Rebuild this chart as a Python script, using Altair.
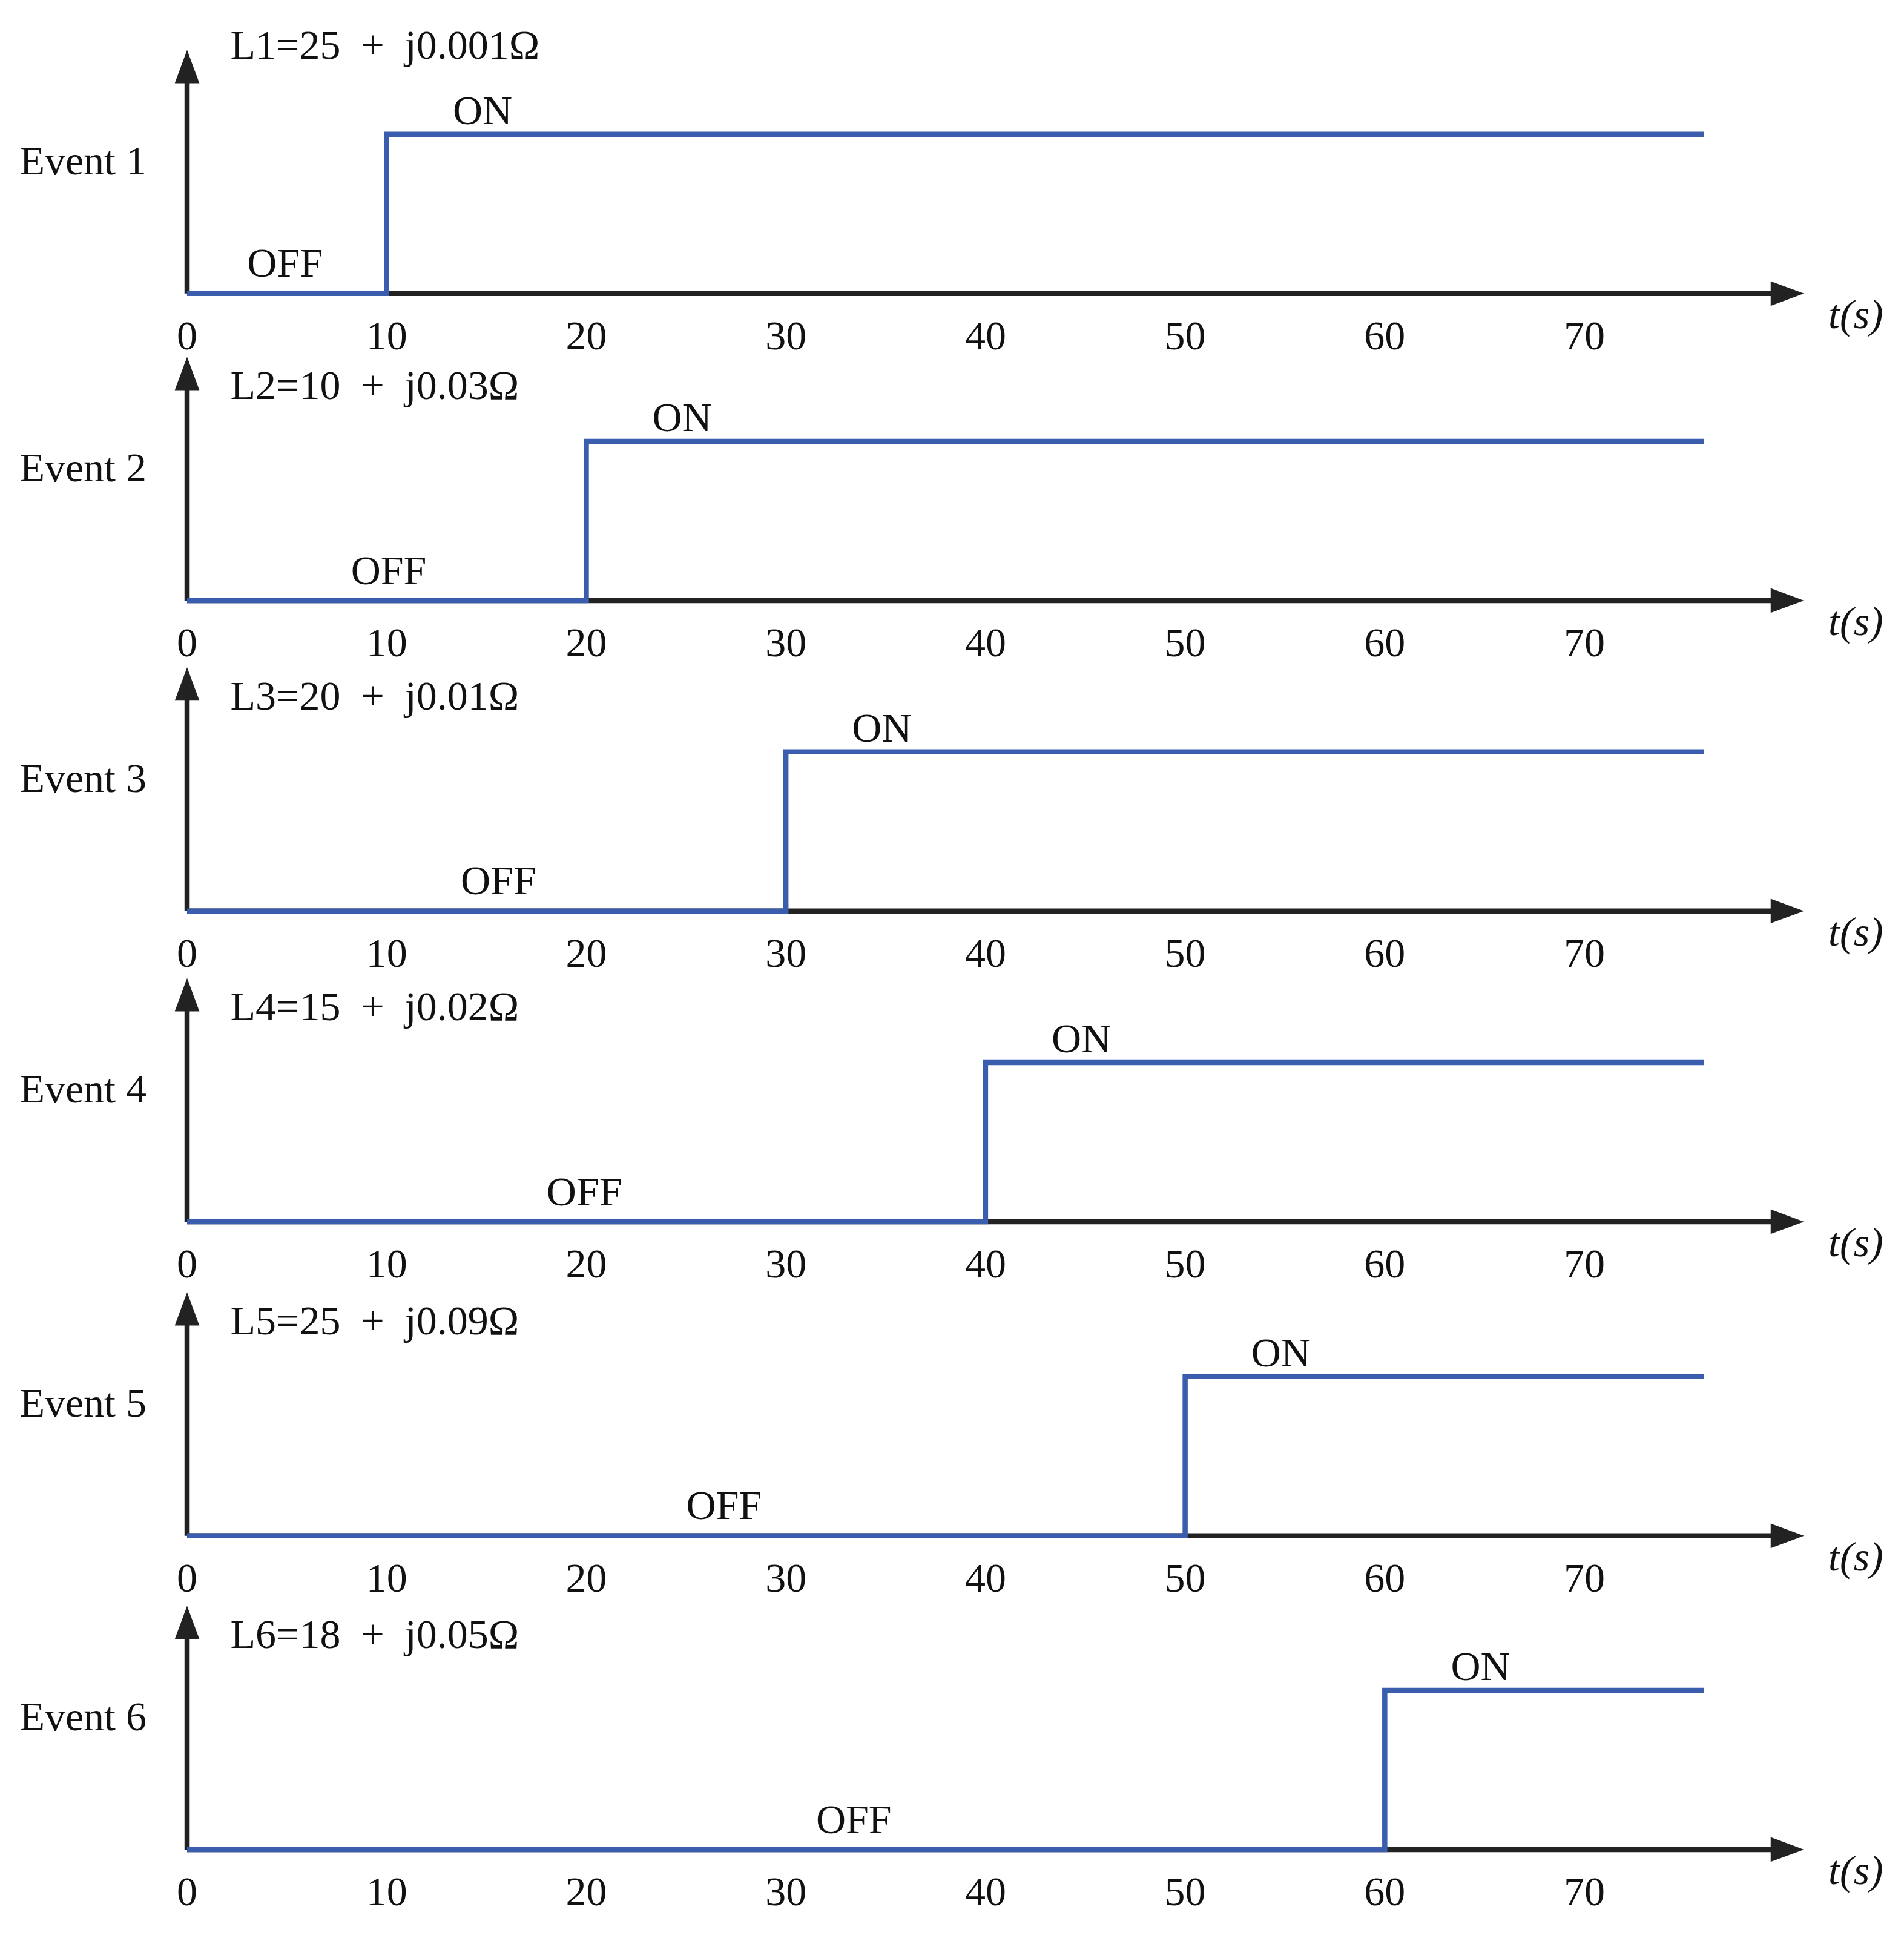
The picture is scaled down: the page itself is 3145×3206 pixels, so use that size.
import altair as alt
import pandas as pd

# ---- data ----
events = ["Event 1", "Event 2", "Event 3", "Event 4", "Event 5", "Event 6"]
loads = ["L1=25\u2002+\u2002j0.001Ω", "L2=10\u2002+\u2002j0.03Ω", "L3=20\u2002+\u2002j0.01Ω",
         "L4=15\u2002+\u2002j0.02Ω", "L5=25\u2002+\u2002j0.09Ω", "L6=18\u2002+\u2002j0.05Ω"]
switch_on_t = [10, 20, 30, 40, 50, 60]             # time at which each load turns ON (s)
off_label_t = [4.9, 10.1, 15.6, 19.9, 26.9, 33.4]  # where "OFF" is written (s)
end_t = 76.0                                       # end of the drawn signal (s)
ticks = [0, 10, 20, 30, 40, 50, 60, 70]
OFF, ON = 0, 1

# ---- layout (data units) ----
panel_base = [9.772, 7.844, 5.894, 3.943, 1.970, 0.0]   # vertical offset of each panel
AX_END = 80.0        # end of the black time-axis shaft
AX_TIP = 81.0        # tip of the time-axis arrow
Y_TIP = 1.53         # tip of the vertical arrow
XDOM = [-9.13, 85.77]
YDOM = [-0.544, 11.585]
W, H = 3129, 3190
BLUE = "#3a5dae"
BLACK = "#222222"
FONT = "Liberation Serif"
FS = 68
LW = 8.5

sig, axes_h, axes_v, heads_r, heads_u, txt = [], [], [], [], [], []
n = len(events)
for k in range(n):
    base = panel_base[k]
    ts = switch_on_t[k]
    for t, s in [(0, OFF), (ts, ON), (end_t, ON)]:
        sig.append({"panel": k, "t": t, "y": base + s})
    axes_h.append({"x": 0, "x2": AX_END, "y": base})
    axes_v.append({"x": 0, "y": base, "y2": Y_TIP - 0.1 + base})
    heads_r.append({"x": AX_TIP, "y": base})
    heads_u.append({"x": 0, "y": base + Y_TIP})
    title_dy = 1.55 if k == 0 else 1.34
    txt.append({"x": 2.17, "y": base + title_dy, "label": loads[k], "kind": "title"})
    txt.append({"x": -8.39, "y": base + 0.826, "label": events[k], "kind": "event"})
    txt.append({"x": ts + 4.8, "y": base + ON + 0.14, "label": "ON", "kind": "state"})
    txt.append({"x": off_label_t[k], "y": base + 0.18, "label": "OFF", "kind": "state"})
    txt.append({"x": 83.6, "y": base - 0.14, "label": "t(s)", "kind": "unit"})
    for tk in ticks:
        txt.append({"x": tk, "y": base - 0.273, "label": str(tk), "kind": "tick"})

sig = pd.DataFrame(sig)
axes_h = pd.DataFrame(axes_h)
axes_v = pd.DataFrame(axes_v)
heads_r = pd.DataFrame(heads_r)
heads_u = pd.DataFrame(heads_u)
txt = pd.DataFrame(txt)

xs = alt.Scale(domain=XDOM, nice=False, zero=False)
ys = alt.Scale(domain=YDOM, nice=False, zero=False)


def X(f):
    return alt.X(f, type="quantitative", scale=xs, axis=None)


def Y(f):
    return alt.Y(f, type="quantitative", scale=ys, axis=None)


h_rules = alt.Chart(axes_h).mark_rule(color=BLACK, strokeWidth=LW).encode(
    x=X("x"), x2="x2", y=Y("y"))
v_rules = alt.Chart(axes_v).mark_rule(color=BLACK, strokeWidth=LW).encode(
    x=X("x"), y=Y("y"), y2="y2")

right_head = alt.Chart(heads_r).mark_point(
    shape="M0,0 L-2,-0.74 L-2,0.74 Z", size=3025, filled=True, opacity=1,
    color=BLACK, strokeWidth=0).encode(x=X("x"), y=Y("y"))
up_head = alt.Chart(heads_u).mark_point(
    shape="M0,0 L-0.74,2 L0.74,2 Z", size=3025, filled=True, opacity=1,
    color=BLACK, strokeWidth=0).encode(x=X("x"), y=Y("y"))

signal = alt.Chart(sig).mark_line(
    interpolate="step-after", color=BLUE, strokeWidth=LW, strokeJoin="miter").encode(
    x=X("t"), y=Y("y"), detail="panel:N")


def text_layer(kind, align, style="normal"):
    return alt.Chart(txt).transform_filter(alt.datum.kind == kind).mark_text(
        font=FONT, fontSize=FS, color="#111111", align=align, baseline="middle",
        fontStyle=style).encode(x=X("x"), y=Y("y"), text="label:N")


chart = alt.layer(
    h_rules, v_rules, right_head, up_head, signal,
    text_layer("title", "left"),
    text_layer("event", "left"),
    text_layer("state", "center"),
    text_layer("tick", "center"),
    text_layer("unit", "center", "italic"),
).properties(width=W, height=H, padding=0, background="white").configure_view(
    strokeWidth=0)

chart.save("out.html", embed_options={"renderer": "svg", "actions": False})
